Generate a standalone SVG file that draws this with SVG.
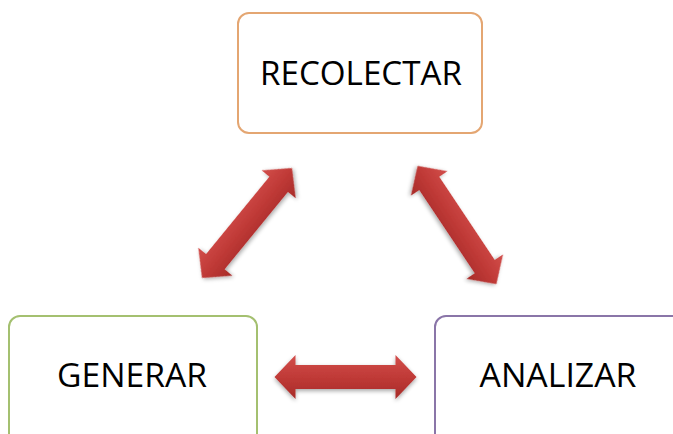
<svg xmlns="http://www.w3.org/2000/svg" xmlns:xlink="http://www.w3.org/1999/xlink" width="673" height="434" viewBox="0 0 673 434">
<style>
.box{fill:#ffffff;stroke-width:2}
.lbl{font-family:"Open Sans","Liberation Sans",sans-serif;font-size:33px;fill:#000000;text-anchor:middle}
</style>
<defs>
<linearGradient id="red" x1="0" y1="0" x2="0" y2="1">
<stop offset="0" stop-color="#D24E4B"/>
<stop offset="0.5" stop-color="#C03A37"/>
<stop offset="1" stop-color="#A72B28"/>
</linearGradient>
<filter id="sh" x="-20%" y="-40%" width="140%" height="180%">
<feGaussianBlur in="SourceAlpha" stdDeviation="2"/>
<feOffset dx="0" dy="2" result="b"/>
<feComponentTransfer><feFuncA type="linear" slope="0.35"/></feComponentTransfer>
<feMerge><feMergeNode/><feMergeNode in="SourceGraphic"/></feMerge>
</filter>
<path id="dbl" d="M-71,0 L-50,-22 L-50,-12 L50,-12 L50,-22 L71,0 L50,22 L50,12 L-50,12 L-50,22 Z" fill="url(#red)" filter="url(#sh)"/>
</defs>
<rect width="673" height="434" fill="#ffffff"/>
<g id="connectors">
<use xlink:href="#dbl" transform="translate(247,223) rotate(-50.7)"/>
<use xlink:href="#dbl" transform="translate(457,225) rotate(56.3)"/>
<use xlink:href="#dbl" transform="translate(345.5,377)"/>
</g>
<g id="recolectar">
<rect class="box" x="238" y="13" width="244" height="120" rx="11" stroke="#E4A672"/>
<text class="lbl" x="361" y="85" textLength="202" lengthAdjust="spacingAndGlyphs">RECOLECTAR</text>
</g>
<g id="generar">
<rect class="box" x="9" y="316" width="248" height="130" rx="11" stroke="#A4C070"/>
<text class="lbl" x="132" y="387" textLength="150" lengthAdjust="spacingAndGlyphs">GENERAR</text>
</g>
<g id="analizar">
<rect class="box" x="435" y="316" width="250" height="130" rx="11" stroke="#8A75A8"/>
<text class="lbl" x="558" y="387" textLength="157" lengthAdjust="spacingAndGlyphs">ANALIZAR</text>
</g>
</svg>
